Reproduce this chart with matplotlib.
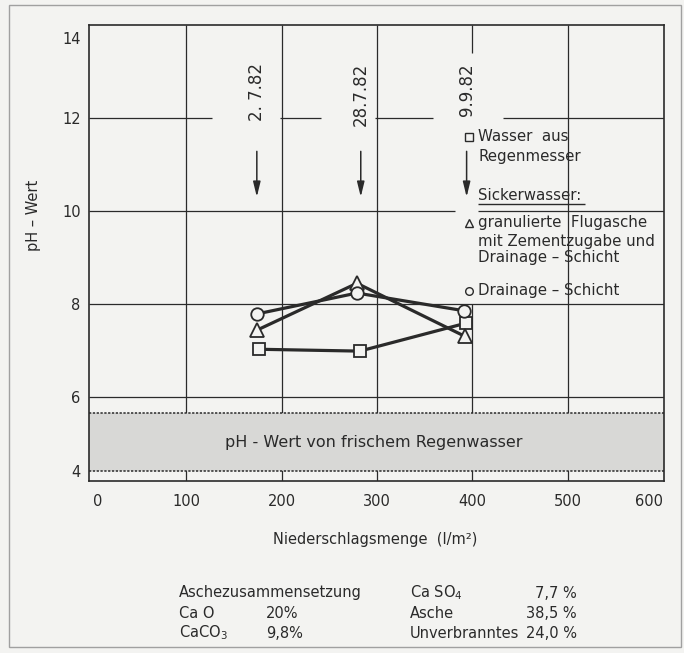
import numpy as np
import matplotlib
matplotlib.use("Agg")
import matplotlib.pyplot as plt
import matplotlib.transforms as mtransforms

# Messwerte: Niederschlagsmenge (l/m²) und pH-Wert
x_regen = [176, 282, 393]
ph_regen = [7.02, 6.98, 7.58]
x_flugasche = [174, 279, 392]
ph_flugasche = [7.43, 8.44, 7.30]
x_drainage = [174, 279, 391]
ph_drainage = [7.78, 8.23, 7.85]

termine = ["2. 7.82", "28.7.82", "9.9.82"]
x_termine = [174, 283, 394]

x_ticks = [0, 100, 200, 300, 400, 500, 600]
y_ticks = [4, 6, 8, 10, 12, 14]

regen_band = (4.0, 5.55)

links_namen = ["Aschezusammensetzung", "Ca O", "CaCO$_3$"]
links_werte = ["", "20%", "9,8%"]
rechts_namen = ["Ca SO$_4$", "Asche", "Unverbranntes"]
rechts_werte = ["7,7 %", "38,5 %", "24,0 %"]

bg = "#f3f3f1"
ink = "#2a2a2a"
W, H = 684, 653


def fwd(y):
    y = np.asarray(y, dtype=float)
    return np.where(y >= 6, y, 6 - (6 - y) * 0.8)


def inv(t):
    t = np.asarray(t, dtype=float)
    return np.where(t >= 6, t, 6 - (6 - t) / 0.8)


fig = plt.figure(figsize=(W / 100, H / 100), dpi=100, facecolor=bg)
ax = fig.add_axes([89 / W, 1 - 481 / H, (664 - 89) / W, (481 - 25) / H])
ax.set_facecolor(bg)
ax.set_yscale("function", functions=(fwd, inv))
ymin, ymax = 3.73, 14
ax.set_xlim(-2, 601)
ax.set_ylim(ymin, ymax)

# Gitter (mit Aussparungen wie im Original)
vgrid = {100: [(ymin, ymax)], 200: [(ymin, ymax)], 300: [(ymin, ymax)],
         400: [(ymin, 8), (13.4, ymax)], 500: [(ymin, ymax)]}
hgrid = {6: [(-2, 601)], 8: [(-2, 601)], 10: [(-2, 382), (406, 601)],
         12: [(-2, 127), (198, 241), (298, 359), (432, 601)]}
for xv, segs in vgrid.items():
    for a, b in segs:
        ax.vlines(xv, a, b, color=ink, lw=0.9, zorder=1)
for yv, segs in hgrid.items():
    for a, b in segs:
        ax.hlines(yv, a, b, color=ink, lw=0.9, zorder=1)

# Band: pH von frischem Regenwasser
ax.axhspan(*regen_band, facecolor="#d8d8d6", edgecolor="none", zorder=2)
for yb in regen_band:
    ax.axhline(yb, color=ink, lw=1.1, ls=(0, (1.5, 1)), zorder=2)
ax.text(297, 4.76, "pH - Wert von frischem Regenwasser", ha="center", va="center",
        fontsize=11.5, color=ink, zorder=3)

# Messreihen
mk = dict(color=ink, lw=2.3, mfc=bg, mec=ink, mew=1.3, zorder=5)
ax.plot(x_regen, ph_regen, marker="s", ms=8.5, **mk)
ax.plot(x_flugasche, ph_flugasche, marker="^", ms=10, **mk)
ax.plot(x_drainage, ph_drainage, marker="o", ms=9, **mk)

# Termine und Pfeile
for xt, lab in zip(x_termine, termine):
    ax.text(xt, 13.18, lab, rotation=90, ha="center", va="top",
            fontsize=12, color=ink)
    ax.annotate("", xy=(xt, 10.3), xytext=(xt, 11.28),
                arrowprops=dict(arrowstyle="-|>,head_length=0.9,head_width=0.22",
                                color=ink, lw=1.1, shrinkA=0, shrinkB=0))

# Legende im Diagramm
lx, tx = 397, 406
fs = 10.8
lm = dict(mfc=bg, mec=ink, mew=1.0, zorder=5)
ax.plot(lx, 11.59, "s", ms=6, **lm)
ax.text(tx, 11.59, "Wasser  aus", va="center", fontsize=fs, color=ink)
ax.text(tx, 11.16, "Regenmesser", va="center", fontsize=fs, color=ink)
ax.text(tx, 10.32, "Sickerwasser:", va="center", fontsize=fs, color=ink)
ax.hlines(10.15, tx, 518, color=ink, lw=1.0)
ax.plot(lx, 9.74, "^", ms=6, **lm)
ax.text(tx, 9.74, "granulierte  Flugasche", va="center", fontsize=fs, color=ink)
ax.text(tx, 9.35, "mit Zementzugabe und", va="center", fontsize=fs, color=ink)
ax.text(tx, 8.99, "Drainage – Schicht", va="center", fontsize=fs, color=ink)
ax.plot(lx, 8.28, "o", ms=5.5, **lm)
ax.text(tx, 8.28, "Drainage – Schicht", va="center", fontsize=fs, color=ink)

# Achsen
ax.set_xticks(x_ticks)
ax.set_yticks(y_ticks)
ax.set_xticklabels([str(v) for v in x_ticks])
ax.set_yticklabels([str(v) for v in y_ticks])
ax.tick_params(length=0, labelsize=10.5, labelcolor=ink)
ax.tick_params(axis="x", pad=9)
ax.tick_params(axis="y", pad=6)


def shift(label, dx, dy):
    off = mtransforms.ScaledTranslation(dx / 100, dy / 100, fig.dpi_scale_trans)
    label.set_transform(label.get_transform() + off)


shift(ax.get_yticklabels()[-1], 0, -13)
shift(ax.get_xticklabels()[0], 7, 0)
shift(ax.get_xticklabels()[-1], -14, 0)
for s in ax.spines.values():
    s.set_color(ink)
    s.set_linewidth(1.2)

ax.set_xlabel("Niederschlagsmenge  (l/m²)", fontsize=10.5, color=ink)
ax.xaxis.set_label_coords((375 - 89) / 575, (481 - 532) / 456)
ax.set_ylabel("pH – Wert", fontsize=10.5, color=ink)
ax.yaxis.set_label_coords((41 - 89) / 575, (481 - 215) / 456)

# Aschezusammensetzung
for i, y in enumerate([593, 613, 633]):
    fy = 1 - y / H
    fig.text(179 / W, fy, links_namen[i], va="center", fontsize=10.5, color=ink)
    fig.text(266 / W, fy, links_werte[i], va="center", fontsize=10.5, color=ink)
    fig.text(410 / W, fy, rechts_namen[i], va="center", fontsize=10.5, color=ink)
    fig.text(577 / W, fy, rechts_werte[i], va="center", ha="right", fontsize=10.5, color=ink)

fig.patches.append(plt.Rectangle((9 / W, 6 / H), (681 - 9) / W, (648 - 6) / H,
                                 transform=fig.transFigure, fill=False,
                                 ec="#a0a0a0", lw=1.0))

fig.savefig("out.png", dpi=100, facecolor=bg)
